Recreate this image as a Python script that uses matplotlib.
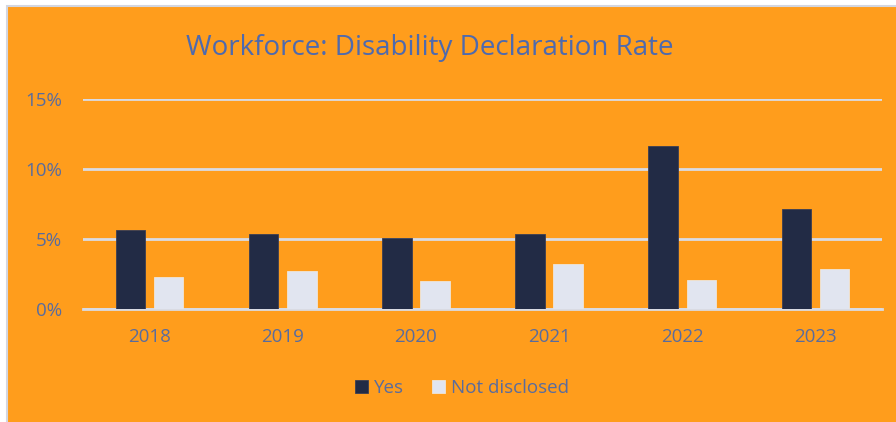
import matplotlib
matplotlib.use("Agg")
import matplotlib.pyplot as plt
import numpy as np
from matplotlib.patches import Rectangle

years = ["2018", "2019", "2020", "2021", "2022", "2023"]
yes = [5.66, 5.38, 5.09, 5.38, 11.66, 7.14]
not_disclosed = [2.26, 2.69, 1.98, 3.19, 2.10, 2.83]
yticks = [0, 5, 10, 15]
ytick_labels = ["0%", "5%", "10%", "15%"]

ORANGE = "#FF9D1C"
DARK = "#222B45"
LIGHT = "#E1E5F0"
TXT = "#596C9E"
TITLE = "#4E6AAE"
GRID = "#D9DBE3"

plt.rcParams['font.family'] = ['Open Sans', 'DejaVu Sans']

fig = plt.figure(figsize=(8.96, 4.22), dpi=100, facecolor="white")
fig.patches.append(Rectangle((7/896, -0.01), 1.0, 1 - 6/422 + 0.01, transform=fig.transFigure,
                             facecolor=ORANGE, edgecolor="#D3D6E0", linewidth=1.5, zorder=-5))

ax = fig.add_axes([83/896, 1 - 309/422, (882 - 83)/896, 210/422])
ax.set_zorder(2)
ax.set_facecolor("none")
x = np.arange(len(years))
w = 0.222
off = 0.143
ax.bar(x - off, yes, w, color=DARK, edgecolor="#3A3F55", linewidth=0.6, zorder=3, label="Yes")
ax.bar(x + off, not_disclosed, w, color=LIGHT, edgecolor="#F0E6D8", linewidth=0.6, zorder=3, label="Not disclosed")

ax.set_xlim(-0.5, len(years) - 0.5)
ax.set_ylim(0, 15)
ax.set_yticks(yticks)
ax.set_yticklabels(ytick_labels)
ax.set_xticks(x)
ax.set_xticklabels(years)
ax.yaxis.grid(True, color=GRID, linewidth=2.0, zorder=1)
ax.set_axisbelow(True)
for s in ["top", "right", "left"]:
    ax.spines[s].set_visible(False)
ax.spines["bottom"].set_color(GRID)
ax.spines["bottom"].set_linewidth(2.0)
ax.tick_params(axis="both", length=0, colors=TXT, labelsize=13.5)
ax.tick_params(axis="x", pad=14)
ax.tick_params(axis="y", pad=15)

fig.text(430/896, 1 - 48/422, "Workforce: Disability Declaration Rate", ha="center", va="center",
         fontsize=20, color=TITLE, zorder=3)

leg = ax.legend(loc="center", bbox_to_anchor=(462/896, 1 - 388/422), bbox_transform=fig.transFigure,
                ncol=2, frameon=False, fontsize=13.5, handlelength=0.7, handleheight=0.7,
                handletextpad=0.3, columnspacing=1.5)
for t in leg.get_texts():
    t.set_color(TXT)

fig.savefig("out.png", dpi=100, facecolor="white")
